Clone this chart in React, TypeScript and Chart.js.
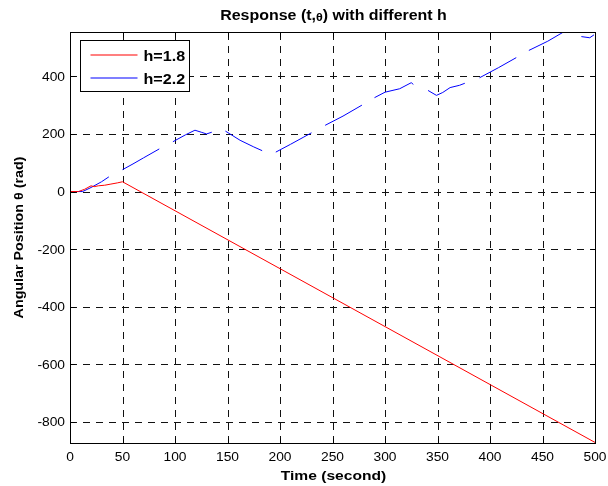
import React, { useEffect, useRef } from 'react';
import { Chart, registerables } from 'chart.js';

Chart.register(...registerables);

// ---- data ----
const seriesLabels = ['h=1.8', 'h=2.2'];
const seriesColors = ['#ff0000', '#0000ff'];

// h = 1.8
const redT = [0, 8, 14, 20, 23, 27, 33, 39, 45, 50, 500];
const redV = [0, 0, 8, 20, 17, 20, 22, 26, 30, 34, -871];

// h = 2.2 (null = gap in the curve)
const blueT = [
  0, 12, 20, 30, 37, 43,
  50, 60, 70, 85, 92,
  98, 110, 119, 125, 130, 135, 141,
  148, 162, 175, 183, 189,
  196, 210, 222, 230, 237,
  243, 260, 278, 284,
  290, 300, 314, 325, 327, 334,
  341, 349, 355, 362, 371, 376, 383,
  390, 408, 425, 431,
  437, 455, 470, 478,
  487, 495, 499,
];
const blueV = [
  0, 0, 14, 34, 51, null,
  76, 96, 117, 148, null,
  173, 197, 213, 206, 200, 206, null,
  210, 178, 155, 142, null,
  137, 164, 188, 204, null,
  230, 262, 300, null,
  326, 345, 357, 378, 372, null,
  351, 334, 344, 361, 369, 376, null,
  395, 430, 465, null,
  490, 522, 554, null,
  538, 534, 544,
];

const xTicks = [0, 50, 100, 150, 200, 250, 300, 350, 400, 450, 500];
const yTicks = [-800, -600, -400, -200, 0, 200, 400];
const xMin = 0;
const xMax = 500;
const yMin = -873;
const yMax = 554;

const titleText = ['Response (t,', 'θ', ') with different h'];
const xLabel = 'Time (second)';
const yLabel = 'Angular Position θ (rad)';

const FONT = '"Liberation Sans", Arial, Helvetica, sans-serif';

function drawText(
  ctx: CanvasRenderingContext2D,
  text: string,
  x: number,
  y: number,
  font: string,
  sx: number,
  align: CanvasTextAlign,
  rot = 0
) {
  ctx.save();
  ctx.translate(x, y);
  if (rot) ctx.rotate(rot);
  ctx.scale(sx, 1);
  ctx.font = font;
  ctx.fillStyle = '#000';
  ctx.textAlign = align;
  ctx.textBaseline = 'alphabetic';
  ctx.fillText(text, 0, 0);
  ctx.restore();
}

const matlabPlugin = {
  id: 'matlabStyle',
  beforeDatasetsDraw(chart: any) {
    const { ctx, chartArea, scales } = chart;
    const { left, right, top, bottom } = chartArea;
    const xs = scales.x;
    const ys = scales.y;
    ctx.save();
    ctx.strokeStyle = '#111';
    ctx.lineWidth = 1;
    ctx.setLineDash([7, 6]);
    for (const v of xTicks) {
      if (v === xMin || v === xMax) continue;
      const px = Math.round(xs.getPixelForValue(v)) + 0.5;
      ctx.beginPath();
      ctx.moveTo(px, bottom);
      ctx.lineTo(px, top);
      ctx.stroke();
    }
    for (const v of yTicks) {
      const py = Math.round(ys.getPixelForValue(v)) + 0.5;
      ctx.beginPath();
      ctx.moveTo(left, py);
      ctx.lineTo(right, py);
      ctx.stroke();
    }
    ctx.restore();
  },
  afterDatasetsDraw(chart: any) {
    const { ctx, chartArea, scales } = chart;
    const { left, right, top, bottom } = chartArea;
    const xs = scales.x;
    const ys = scales.y;
    const L = Math.round(left) + 0.5;
    const R = Math.round(right) + 0.5;
    const T = Math.round(top) + 0.5;
    const B = Math.round(bottom) + 0.5;

    ctx.save();
    ctx.setLineDash([]);
    ctx.strokeStyle = '#000';
    ctx.lineWidth = 1;
    // frame
    ctx.strokeRect(L, T, R - L, B - T);
    // inward tick marks
    const tl = 5;
    ctx.beginPath();
    for (const v of xTicks) {
      const px = Math.round(xs.getPixelForValue(v)) + 0.5;
      ctx.moveTo(px, B);
      ctx.lineTo(px, B - tl);
      ctx.moveTo(px, T);
      ctx.lineTo(px, T + tl);
    }
    for (const v of yTicks) {
      const py = Math.round(ys.getPixelForValue(v)) + 0.5;
      ctx.moveTo(L, py);
      ctx.lineTo(L + tl, py);
      ctx.moveTo(R, py);
      ctx.lineTo(R - tl, py);
    }
    ctx.stroke();

    // tick labels
    const tickFont = `12px ${FONT}`;
    for (const v of xTicks) {
      const px = xs.getPixelForValue(v);
      drawText(ctx, String(v), px, bottom + 18, tickFont, 1.15, 'center');
    }
    for (const v of yTicks) {
      const py = ys.getPixelForValue(v);
      drawText(ctx, String(v), left - 5, py + 4.4, tickFont, 1.15, 'right');
    }

    // axis labels
    drawText(ctx, xLabel, (left + right) / 2 + 1, 480, `bold 13px ${FONT}`, 1.2, 'center');
    drawText(ctx, yLabel, 23, (top + bottom) / 2, `bold 13px ${FONT}`, 1.1, 'center', -Math.PI / 2);

    // title (with smaller theta)
    const tFont = `bold 14px ${FONT}`;
    const thFont = `bold 11px ${FONT}`;
    const sxT = 1.14;
    ctx.font = tFont;
    const w0 = ctx.measureText(titleText[0]).width * sxT;
    const w2 = ctx.measureText(titleText[2]).width * sxT;
    ctx.font = thFont;
    const w1 = ctx.measureText(titleText[1]).width * sxT;
    const total = w0 + w1 + w2;
    let tx = (left + right) / 2 + 1 - total / 2;
    const ty = 19.5;
    drawText(ctx, titleText[0], tx, ty, tFont, sxT, 'left');
    tx += w0;
    drawText(ctx, titleText[1], tx, ty + 1.5, thFont, sxT, 'left');
    tx += w1;
    drawText(ctx, titleText[2], tx, ty, tFont, sxT, 'left');

    // legend
    const bx = Math.round(left) + 10 + 0.5;
    const by = Math.round(top) + 8 + 0.5;
    const bw = 109;
    const bh = 51;
    ctx.fillStyle = '#fff';
    ctx.fillRect(bx, by, bw, bh);
    ctx.strokeStyle = '#000';
    ctx.lineWidth = 1;
    ctx.strokeRect(bx, by, bw, bh);
    seriesLabels.forEach((label, i) => {
      const ly = Math.round(by + 14 + i * 23);
      ctx.save();
      ctx.strokeStyle = seriesColors[i];
      ctx.lineWidth = 1.2;
      ctx.beginPath();
      ctx.moveTo(bx + 10, ly);
      ctx.lineTo(bx + 57, ly);
      ctx.stroke();
      ctx.restore();
      drawText(ctx, label, bx + 63, ly + 6, `bold 14px ${FONT}`, 1.15, 'left');
    });
    ctx.restore();
  },
};

export default function App() {
  const canvasRef = useRef<HTMLCanvasElement | null>(null);

  useEffect(() => {
    const canvas = canvasRef.current;
    if (!canvas) return;
    const redData = redT.map((t, i) => ({ x: t, y: redV[i] }));
    const blueData = blueT.map((t, i) => ({ x: t, y: blueV[i] }));
    const chart = new Chart(canvas, {
      type: 'line',
      data: {
        datasets: [
          {
            label: seriesLabels[0],
            data: redData as any,
            borderColor: seriesColors[0],
            borderWidth: 1,
            pointRadius: 0,
            tension: 0,
            spanGaps: false,
          },
          {
            label: seriesLabels[1],
            data: blueData as any,
            borderColor: seriesColors[1],
            borderWidth: 1,
            pointRadius: 0,
            tension: 0,
            spanGaps: false,
          },
        ],
      },
      options: {
        animation: false,
        responsive: false,
        devicePixelRatio: 1,
        events: [],
        layout: { padding: { left: 70, right: 13, top: 32, bottom: 43 } },
        plugins: {
          legend: { display: false },
          title: { display: false },
          tooltip: { enabled: false },
        },
        scales: {
          x: { type: 'linear', min: xMin, max: xMax, display: false },
          y: { type: 'linear', min: yMin, max: yMax, display: false },
        },
      },
      plugins: [matlabPlugin],
    });
    return () => chart.destroy();
  }, []);

  return (
    <div style={{ position: 'absolute', left: 0, top: 0, width: 608, height: 486, background: '#fff' }}>
      <canvas ref={canvasRef} width={608} height={486} />
    </div>
  );
}
